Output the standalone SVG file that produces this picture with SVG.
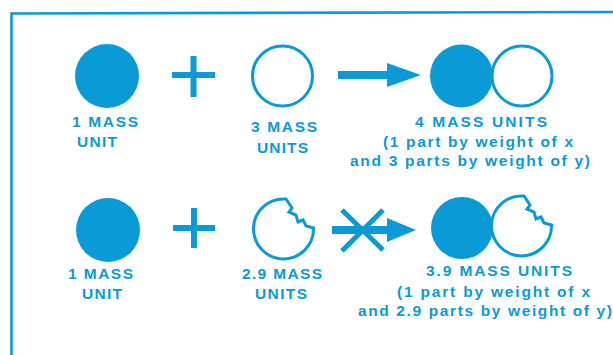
<svg xmlns="http://www.w3.org/2000/svg" width="613" height="355" viewBox="0 0 613 355">
<defs>
<style>
.f{fill:#0a9ad6}
.o{fill:#fff;stroke:#0a9ad6;stroke-width:3}
.s{stroke:#0a9ad6;fill:none}
text{font-family:"Liberation Sans",Arial,sans-serif;font-size:15.5px;font-weight:bold;fill:#0a9ad6}
</style>
</defs>
<rect width="613" height="355" fill="#fff"/>
<g id="frame"><path class="s" stroke-width="2.6" d="M11.5 356 L11.5 13.5 L613 12"/></g>

<g id="row1-x"><circle class="f" cx="107" cy="76" r="32"/><text x="72" y="127" textLength="66">1 MASS</text><text x="77" y="147" textLength="40">UNIT</text></g>
<g id="row1-plus"><path class="s" stroke-width="6" d="M172 75 H215 M193.5 56 V97"/></g>
<g id="row1-y"><circle class="o" cx="282.5" cy="76" r="30"/><text x="251" y="132" textLength="66">3 MASS</text><text x="257" y="153" textLength="51">UNITS</text></g>
<g id="connectors">
<path class="s" stroke-width="8" d="M338 75 H392"/>
<polygon class="f" points="387,63 421,75 387,87"/>
<path class="s" stroke-width="8" d="M332 230 H392"/>
<polygon class="f" points="387,218 416,230 387,242"/>
<path class="s" stroke-width="5" d="M342 210 L383 250 M383 210 L342 251"/>
</g>
<g id="row1-product"><circle class="o" cx="522" cy="76" r="30"/><circle class="f" cx="461.5" cy="76" r="31.5"/>
<text x="415" y="127" textLength="132">4 MASS UNITS</text>
<text x="383" y="147" textLength="190">(1 part by weight of x</text>
<text x="350" y="166" textLength="240">and 3 parts by weight of y)</text></g>

<g id="row2-x"><circle class="f" cx="108" cy="230" r="32"/><text x="68" y="279" textLength="65">1 MASS</text><text x="82" y="299" textLength="40">UNIT</text></g>
<g id="row2-plus"><path class="s" stroke-width="6" d="M173 228 H215 M194 208 V248"/></g>
<g id="row2-y"><path class="o" d="M286 199 L292 208 L289 212 L296 215 L298 222 L303 220 L306 226 L313.5 228 A30 30 0 1 1 286 199 Z"/>
<text x="242" y="279" textLength="80">2.9 MASS</text><text x="255" y="299" textLength="52">UNITS</text></g>
<g id="row2-product"><path class="o" d="M524 196 L530 205 L527 209 L534 212 L536 219 L541 217 L544 223 L551.5 225 A30 30 0 1 1 524 196 Z"/><circle class="f" cx="462" cy="228" r="31"/>
<text x="426" y="276" textLength="146">3.9 MASS UNITS</text>
<text x="397" y="297" textLength="193">(1 part by weight of x</text>
<text x="358" y="316" textLength="254">and 2.9 parts by weight of y)</text></g>
</svg>
